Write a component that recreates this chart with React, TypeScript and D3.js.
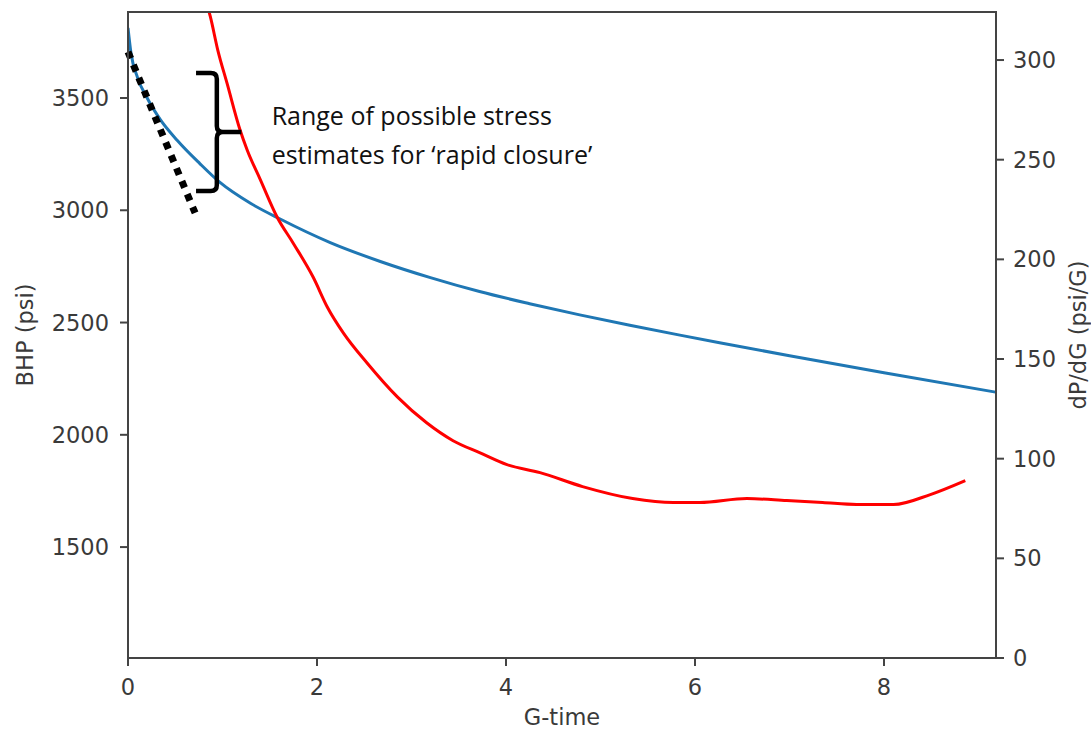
import * as d3 from "d3";

// G-time values and bottom hole pressure (psi)
const bhpTime = [0, 0.03, 0.1, 0.2, 0.34, 0.52, 0.76, 0.97, 1.3, 1.61, 2.14, 2.67, 3.2, 3.72, 4.25, 4.78, 5.31, 5.84, 6.26, 7, 8, 9.18];
const bhpValues = [3812, 3705, 3592, 3502, 3405, 3312, 3208, 3125, 3030, 2961, 2856, 2772, 2700, 2638, 2584, 2534, 2488, 2444, 2410, 2352, 2276, 2190];

// derivative dP/dG (psi/G)
const derivTime = [0.8, 0.87, 0.95, 1.05, 1.185, 1.26, 1.4, 1.58, 1.75, 1.96, 2.11, 2.28, 2.53, 2.85, 3.16, 3.44, 3.72, 4.01, 4.36, 4.81, 5.34, 5.77, 6.05, 6.55, 6.97, 7.35, 7.71, 8.1, 8.49, 8.86];
const derivValues = [333, 322, 305, 288, 265, 255, 240, 221, 208, 191, 176, 163, 148, 131, 118, 109, 103, 97, 93, 86, 80, 78, 78, 80, 79, 78, 77, 77, 82, 89];

const xTicks = [0, 2, 4, 6, 8];
const bhpTicks = [1500, 2000, 2500, 3000, 3500];
const derivTicks = [0, 50, 100, 150, 200, 250, 300];

// rapid-closure tangent (G, psi) and bracket span (psi)
const tangentTime = [0, 0.71];
const tangentBhp = [3705, 2988];
const bracketBhp = [3611, 3349, 3086];
const noteLines = ["Range of possible stress", "estimates for \u2018rapid closure\u2019"];

const W = 1091;
const H = 730;
const margin = { top: 12, right: 95, bottom: 72, left: 128 };
const axisColor = "#444";
const textColor = "#3a3a3a";
const tickFont = "DejaVu Sans, sans-serif";

const App = () => {
  const x = d3.scaleLinear().domain([0, 9.185]).range([margin.left, W - margin.right]);
  const yL = d3.scaleLinear().domain([1006, 3883]).range([H - margin.bottom, margin.top]);
  const yR = d3.scaleLinear().domain([0, 324.1]).range([H - margin.bottom, margin.top]);

  const x0 = margin.left;
  const x1 = W - margin.right;
  const y0 = H - margin.bottom;
  const y1 = margin.top;

  const bhpLine = d3
    .line<number>()
    .x((_d, i) => x(bhpTime[i]))
    .y((d) => yL(d))
    .curve(d3.curveMonotoneX);

  const derivLine = d3
    .line<number>()
    .x((_d, i) => x(derivTime[i]))
    .y((d) => yR(d))
    .curve(d3.curveMonotoneX);

  // curly bracket built from the bracket span
  const bx = x(0.72);
  const bv = x(0.94);
  const bn = x(1.2);
  const [bt, bm, bb] = bracketBhp.map((v) => yL(v));
  const r = 6;
  const bracket = [
    `M${bx},${bt} H${bv - r} Q${bv},${bt} ${bv},${bt + r}`,
    `V${bm - r} Q${bv},${bm} ${bv + r},${bm} H${bn}`,
    `M${bv + r},${bm} Q${bv},${bm} ${bv},${bm + r}`,
    `V${bb - r} Q${bv},${bb} ${bv - r},${bb} H${bx}`,
  ].join(" ");

  return (
    <svg
      width={W}
      height={H}
      style={{ position: "absolute", left: 0, top: 0, background: "#fff" }}
    >
      <defs>
        <clipPath id="plot-clip">
          <rect x={x0} y={y1} width={x1 - x0} height={y0 - y1} />
        </clipPath>
      </defs>

      <g clipPath="url(#plot-clip)" fill="none">
        <path d={bhpLine(bhpValues) ?? ""} stroke="#1f77b4" strokeWidth={3} />
        <path d={derivLine(derivValues) ?? ""} stroke="#ff0000" strokeWidth={3} />
      </g>

      {/* tangent line for rapid closure */}
      <line
        x1={x(tangentTime[0])}
        y1={yL(tangentBhp[0])}
        x2={x(tangentTime[1])}
        y2={yL(tangentBhp[1])}
        stroke="#000"
        strokeWidth={7}
        strokeDasharray="7 7"
      />
      <path d={bracket} fill="none" stroke="#000" strokeWidth={4.5} />
      <text
        x={x(1.52)}
        y={yL(3380)}
        fontFamily="Open Sans, sans-serif"
        fontSize={25}
        fill="#111"
      >
        <tspan x={x(1.52)}>{noteLines[0]}</tspan>
        <tspan x={x(1.52)} dy={39}>{noteLines[1]}</tspan>
      </text>

      {/* frame */}
      <rect x={x0} y={y1} width={x1 - x0} height={y0 - y1} fill="none" stroke={axisColor} strokeWidth={2} />

      {/* bottom axis */}
      {xTicks.map((t) => (
        <g key={`x${t}`} transform={`translate(${x(t)},${y0})`}>
          <line y2={8} stroke={axisColor} strokeWidth={2} />
          <text y={37} textAnchor="middle" fontFamily={tickFont} fontSize={22.5} fill={textColor}>
            {t}
          </text>
        </g>
      ))}
      <text x={(x0 + x1) / 2} y={725} textAnchor="middle" fontFamily={tickFont} fontSize={22.5} fill={textColor}>
        G-time
      </text>

      {/* left axis */}
      {bhpTicks.map((t) => (
        <g key={`l${t}`} transform={`translate(${x0},${yL(t)})`}>
          <line x2={-8} stroke={axisColor} strokeWidth={2} />
          <text x={-19} dy="0.36em" textAnchor="end" fontFamily={tickFont} fontSize={22.5} fill={textColor}>
            {t}
          </text>
        </g>
      ))}
      <text
        transform={`translate(33,${(y0 + y1) / 2}) rotate(-90)`}
        textAnchor="middle"
        fontFamily={tickFont}
        fontSize={22.5}
        fill={textColor}
      >
        BHP (psi)
      </text>

      {/* right axis */}
      {derivTicks.map((t) => (
        <g key={`r${t}`} transform={`translate(${x1},${yR(t)})`}>
          <line x2={8} stroke={axisColor} strokeWidth={2} />
          <text x={17} dy="0.36em" fontFamily={tickFont} fontSize={22.5} fill={textColor}>
            {t}
          </text>
        </g>
      ))}
      <text
        transform={`translate(1086,${(y0 + y1) / 2}) rotate(-90)`}
        textAnchor="middle"
        fontFamily={tickFont}
        fontSize={22.5}
        fill={textColor}
      >
        dP/dG (psi/G)
      </text>
    </svg>
  );
};

export default App;
